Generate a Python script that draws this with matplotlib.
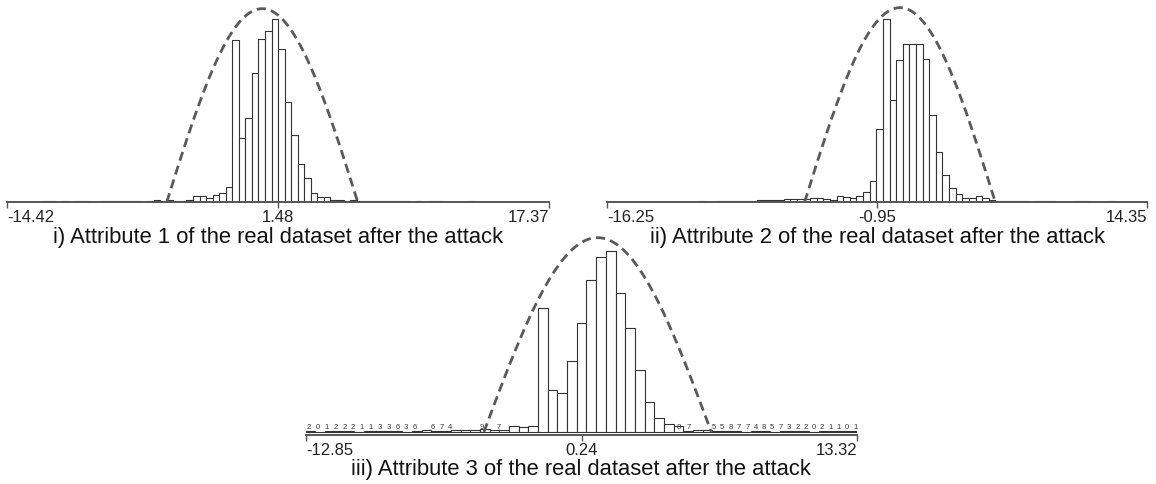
import matplotlib
matplotlib.use('Agg')
import matplotlib.pyplot as plt
import numpy as np

plt.rcParams['font.family'] = ['Liberation Sans', 'DejaVu Sans']

# histogram counts per bin (left to right) for each attribute
counts_1 = [2, 2, 0, 2, 0, 2, 2, 0, 0, 2,
            2, 2, 3, 3, 3, 1, 3, 5, 3, 5,
            4, 3, 5, 17, 17, 12, 20, 28, 46, 487,
            193, 253, 388, 488, 513, 548,
            458, 300, 200, 113, 73, 28, 16, 16, 6, 5,
            4, 5, 3, 3, 2, 3, 3, 2, 3, 2,
            1, 2, 0, 2, 2, 0, 0, 0, 0, 2, 0]
edge0_1, width_1 = -12.344, 0.384

counts_2 = [2, 0, 0, 2, 2, 2, 2, 2, 2, 5,
            6, 6, 7, 8, 8, 9, 8, 13, 13, 10,
            7, 18, 15, 13, 18, 30, 63,
            220, 550, 307, 427, 475, 475, 475, 430, 260, 150,
            82, 43, 23, 13, 13, 18, 13, 7, 4, 4,
            4, 3, 2, 0, 4, 4, 2, 0, 0, 0,
            2, 2, 0, 0, 0, 2]
edge0_2, width_2 = -11.115, 0.375

counts_3 = [3, 0, 3, 3, 3, 0, 3, 3, 3, 3,
            0, 3, 5, 3, 3, 5, 5, 5, 10, 5,
            5, 17, 15, 17,
            372, 127, 117, 212, 327, 457, 525, 543, 417, 313,
            187, 90, 43, 25, 17, 3, 7, 5, 3, 3,
            3, 0, 3, 3, 0, 3, 3, 3, 0, 3, 3, 3, 3]
edge0_3, width_3 = -12.87, 0.46

# axis ends and middle tick
ticks_1 = [-14.42, 1.48, 17.37]
ticks_2 = [-16.25, -0.95, 14.35]
ticks_3 = [-12.85, 0.24, 13.32]

# fitted bell: centre, half width, height
bell_1 = (0.55, 5.6, 580)
bell_2 = (0.35, 5.4, 583)
bell_3 = (1.0, 5.4, 583)

captions = ['i) Attribute 1 of the real dataset after the attack',
            'ii) Attribute 2 of the real dataset after the attack',
            'iii) Attribute 3 of the real dataset after the attack']

# small count labels printed along the tails of attribute 3
tail_left = ['2', '0', '1', '2', '2', '2', '1', '1', '3', '3', '6', '3', '6', '', '6', '7', '4']
tail_mid = ['9', '7']
tail_near = ['8', '7']
tail_right = ['5', '5', '8', '7', '7', '4', '8', '5', '7', '3', '2', '2', '0', '2', '1', '1', '0', '1']

W, H = 1156, 484
fig = plt.figure(figsize=(W / 100, H / 100), dpi=100)


def panel(left, right, base, counts, edge0, width, ticks, bell, ylo=0, ytop=600):
    hpx = (ytop - ylo) / 3.0
    ax = fig.add_axes([left / W, (H - base) / H, (right - left) / W, hpx / H])
    ax.patch.set_alpha(0)
    lefts = edge0 + width * np.arange(len(counts))
    ax.bar(lefts, counts, width=width, align='edge', facecolor='white',
           edgecolor='#333333', linewidth=0.8)
    c, hw, peak = bell
    xs = np.linspace(c - hw, c + hw, 300)
    ys = peak * np.cos(np.pi / 2 * (xs - c) / hw)
    ax.plot(xs, ys, color='#5a5a5a', lw=2.0, ls=(0, (3.3, 1.9)), clip_on=False)
    ax.set_xlim(ticks[0], ticks[2])
    ax.set_ylim(ylo, ytop)
    for s in ['top', 'left', 'right']:
        ax.spines[s].set_visible(False)
    ax.spines['bottom'].set_color('#555555')
    ax.spines['bottom'].set_linewidth(1.4)
    ax.set_yticks([])
    ax.set_xticks(ticks)
    ax.set_xticklabels(['%.2f' % t for t in ticks])
    ax.tick_params(axis='x', direction='out', length=4, width=1.0, color='#555555',
                   pad=2, labelsize=12, labelcolor='#222222')
    for lab, ha in zip(ax.get_xticklabels(), ['left', 'center', 'right']):
        lab.set_ha(ha)
    return ax


ax1 = panel(7, 549, 202, counts_1, edge0_1, width_1, ticks_1, bell_1)
ax2 = panel(607, 1147, 202, counts_2, edge0_2, width_2, ticks_2, bell_2)
ax3 = panel(306, 857, 435, counts_3, edge0_3, width_3, ticks_3, bell_3, ylo=-9)

# count labels along the tails
tail_kw = dict(fontsize=5.5, color='#333333', ha='center', va='bottom')
for i, t in enumerate(tail_left):
    ax3.text(-12.71 + 0.42 * i, 3, t, **tail_kw)
for i, t in enumerate(tail_mid):
    ax3.text(-4.52 + 0.81 * i, 3, t, **tail_kw)
for i, t in enumerate(tail_near):
    ax3.text(4.86 + 0.48 * i, 3, t, **tail_kw)
for i, t in enumerate(tail_right):
    ax3.text(6.53 + 0.395 * i, 3, t, **tail_kw)

cap_kw = dict(ha='center', va='center', fontsize=15.8, color='#111111')
fig.text(278 / W, 1 - 238 / H, captions[0], **cap_kw)
fig.text(877 / W, 1 - 238 / H, captions[1], **cap_kw)
fig.text(581 / W, 1 - 469 / H, captions[2], **cap_kw)

fig.savefig('out.png', dpi=100, facecolor='white')
